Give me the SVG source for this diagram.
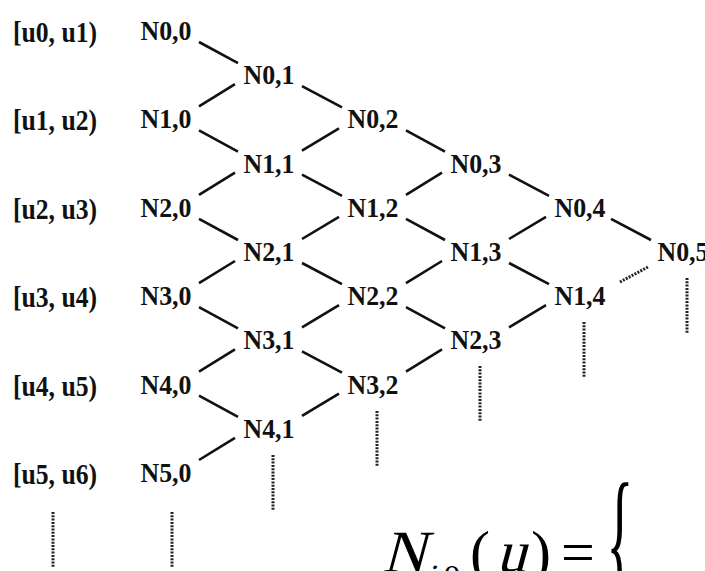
<svg xmlns="http://www.w3.org/2000/svg" width="705" height="571" viewBox="0 0 705 571">
<style>
.n{font-family:"Liberation Serif","Times New Roman",serif;font-weight:bold;font-size:28px;fill:#111;text-anchor:middle}
.r{font-family:"Liberation Serif","Times New Roman",serif;font-weight:bold;font-size:29px;fill:#111}
.e{stroke:#111;stroke-width:2.6;fill:none}
.d{stroke:#222;stroke-width:3;stroke-dasharray:2 1.3;fill:none}
.m{font-family:"Liberation Serif","Times New Roman",serif;fill:#000}
</style>
<rect width="705" height="571" fill="#fff"/>
<g id="row-labels">
<text class="r" x="13" y="42" textLength="84" lengthAdjust="spacingAndGlyphs">[u0, u1)</text>
<text class="r" x="13" y="130.4" textLength="84" lengthAdjust="spacingAndGlyphs">[u1, u2)</text>
<text class="r" x="13" y="218.8" textLength="84" lengthAdjust="spacingAndGlyphs">[u2, u3)</text>
<text class="r" x="13" y="307.2" textLength="84" lengthAdjust="spacingAndGlyphs">[u3, u4)</text>
<text class="r" x="13" y="395.6" textLength="84" lengthAdjust="spacingAndGlyphs">[u4, u5)</text>
<text class="r" x="13" y="484" textLength="84" lengthAdjust="spacingAndGlyphs">[u5, u6)</text>
</g>
<g id="N00"><text class="n" x="166" y="40" textLength="51" lengthAdjust="spacingAndGlyphs">N0,0</text></g>
<g id="N10"><text class="n" x="166" y="128.4" textLength="51" lengthAdjust="spacingAndGlyphs">N1,0</text></g>
<g id="N20"><text class="n" x="166" y="216.8" textLength="51" lengthAdjust="spacingAndGlyphs">N2,0</text></g>
<g id="N30"><text class="n" x="166" y="305.2" textLength="51" lengthAdjust="spacingAndGlyphs">N3,0</text></g>
<g id="N40"><text class="n" x="166" y="393.6" textLength="51" lengthAdjust="spacingAndGlyphs">N4,0</text></g>
<g id="N50"><text class="n" x="166" y="482" textLength="51" lengthAdjust="spacingAndGlyphs">N5,0</text></g>
<g id="N01"><text class="n" x="269" y="84.2" textLength="51" lengthAdjust="spacingAndGlyphs">N0,1</text></g>
<g id="N11"><text class="n" x="269" y="172.6" textLength="51" lengthAdjust="spacingAndGlyphs">N1,1</text></g>
<g id="N21"><text class="n" x="269" y="261" textLength="51" lengthAdjust="spacingAndGlyphs">N2,1</text></g>
<g id="N31"><text class="n" x="269" y="349.4" textLength="51" lengthAdjust="spacingAndGlyphs">N3,1</text></g>
<g id="N41"><text class="n" x="269" y="437.8" textLength="51" lengthAdjust="spacingAndGlyphs">N4,1</text></g>
<g id="N02"><text class="n" x="373" y="128.4" textLength="51" lengthAdjust="spacingAndGlyphs">N0,2</text></g>
<g id="N12"><text class="n" x="373" y="216.8" textLength="51" lengthAdjust="spacingAndGlyphs">N1,2</text></g>
<g id="N22"><text class="n" x="373" y="305.2" textLength="51" lengthAdjust="spacingAndGlyphs">N2,2</text></g>
<g id="N32"><text class="n" x="373" y="393.6" textLength="51" lengthAdjust="spacingAndGlyphs">N3,2</text></g>
<g id="N03"><text class="n" x="476" y="172.6" textLength="51" lengthAdjust="spacingAndGlyphs">N0,3</text></g>
<g id="N13"><text class="n" x="476" y="261" textLength="51" lengthAdjust="spacingAndGlyphs">N1,3</text></g>
<g id="N23"><text class="n" x="476" y="349.4" textLength="51" lengthAdjust="spacingAndGlyphs">N2,3</text></g>
<g id="N04"><text class="n" x="580" y="216.8" textLength="51" lengthAdjust="spacingAndGlyphs">N0,4</text></g>
<g id="N14"><text class="n" x="580" y="305.2" textLength="51" lengthAdjust="spacingAndGlyphs">N1,4</text></g>
<g id="N05"><text class="n" x="683" y="261" textLength="51" lengthAdjust="spacingAndGlyphs">N0,5</text></g>
<g id="connectors">
<line class="e" x1="199" y1="42" x2="238" y2="63.2"/>
<line class="e" x1="199" y1="106.4" x2="235" y2="84.2"/>
<line class="e" x1="199" y1="130.4" x2="238" y2="151.6"/>
<line class="e" x1="199" y1="194.8" x2="235" y2="172.6"/>
<line class="e" x1="199" y1="218.8" x2="238" y2="240"/>
<line class="e" x1="199" y1="283.2" x2="235" y2="261"/>
<line class="e" x1="199" y1="307.2" x2="238" y2="328.4"/>
<line class="e" x1="199" y1="371.6" x2="235" y2="349.4"/>
<line class="e" x1="199" y1="395.6" x2="238" y2="416.8"/>
<line class="e" x1="199" y1="460" x2="235" y2="437.8"/>
<line class="e" x1="302" y1="86.2" x2="342" y2="107.4"/>
<line class="e" x1="302" y1="150.6" x2="339" y2="128.4"/>
<line class="e" x1="302" y1="174.6" x2="342" y2="195.8"/>
<line class="e" x1="302" y1="239" x2="339" y2="216.8"/>
<line class="e" x1="302" y1="263" x2="342" y2="284.2"/>
<line class="e" x1="302" y1="327.4" x2="339" y2="305.2"/>
<line class="e" x1="302" y1="351.4" x2="342" y2="372.6"/>
<line class="e" x1="302" y1="415.8" x2="339" y2="393.6"/>
<line class="e" x1="406" y1="130.4" x2="445" y2="151.6"/>
<line class="e" x1="406" y1="194.8" x2="442" y2="172.6"/>
<line class="e" x1="406" y1="218.8" x2="445" y2="240"/>
<line class="e" x1="406" y1="283.2" x2="442" y2="261"/>
<line class="e" x1="406" y1="307.2" x2="445" y2="328.4"/>
<line class="e" x1="406" y1="371.6" x2="442" y2="349.4"/>
<line class="e" x1="509" y1="174.6" x2="549" y2="195.8"/>
<line class="e" x1="509" y1="239" x2="546" y2="216.8"/>
<line class="e" x1="509" y1="263" x2="549" y2="284.2"/>
<line class="e" x1="509" y1="327.4" x2="546" y2="305.2"/>
<line class="e" x1="611" y1="218.8" x2="651" y2="240"/>
<line class="d" x1="620" y1="282" x2="648" y2="267"/>
<line class="d" x1="273" y1="455" x2="273" y2="510"/>
<line class="d" x1="377" y1="411" x2="377" y2="466"/>
<line class="d" x1="480" y1="366" x2="480" y2="421"/>
<line class="d" x1="584" y1="322" x2="584" y2="377"/>
<line class="d" x1="687" y1="278" x2="687" y2="333"/>
<line class="d" x1="172" y1="512" x2="172" y2="568"/>
<line class="d" x1="53" y1="512" x2="53" y2="568"/>
</g>
<g id="formula">
<text class="m" transform="translate(382,572) skewX(-15)" font-size="60">N</text>
<text class="m" transform="translate(425,588) skewX(-15)" font-size="34">i</text>
<text class="m" x="435" y="588" font-size="34">,0</text>
<text class="m" x="470" y="572" font-size="60">(</text>
<text class="m" transform="translate(496,572) skewX(-15)" font-size="60">u</text>
<text class="m" x="531" y="572" font-size="60">)</text>
<text class="m" x="561" y="572" font-size="60">=</text>
<text class="m" transform="translate(612,599) scale(0.34,1)" x="-17" y="0" font-size="167">{</text>
</g>
</svg>
